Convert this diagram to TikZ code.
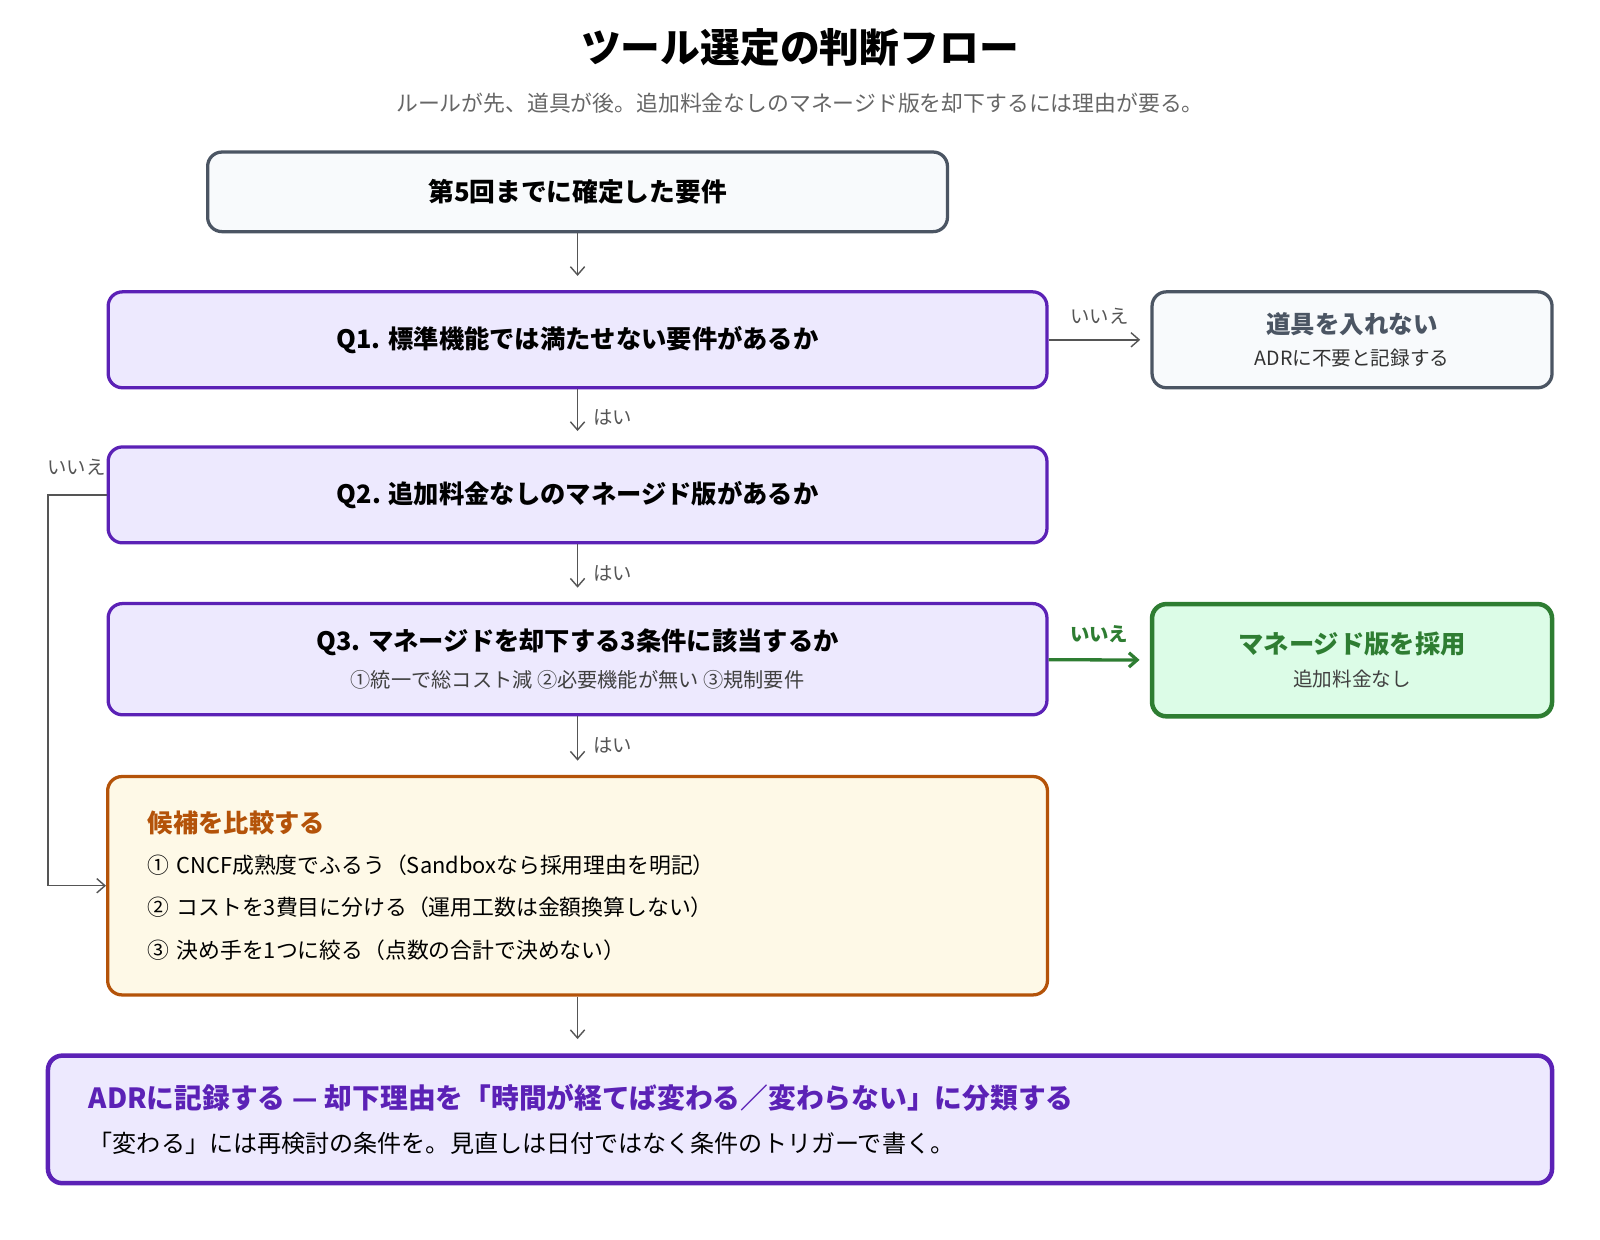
\documentclass[tikz,border=0pt]{standalone}
\usepackage{fontspec}
\setmainfont{Noto Sans CJK JP}
\usetikzlibrary{arrows.meta, positioning}
\definecolor{qline}{HTML}{5B21B6}
\definecolor{qfill}{HTML}{EDE9FE}
\definecolor{gline}{HTML}{4B5563}
\definecolor{gfill}{HTML}{F8FAFC}
\definecolor{okline}{HTML}{2E7D32}
\definecolor{okfill}{HTML}{DCFCE7}
\definecolor{cline}{HTML}{B45309}
\definecolor{cfill}{HTML}{FEF9E7}
\definecolor{arr}{HTML}{555555}

\begin{document}
\begin{tikzpicture}[x=0.5pt, y=-0.5pt,
    box/.style={rounded corners=7pt, line width=1.6pt, minimum height=#1, inner sep=0pt},
    question/.style={box=47pt, draw=qline, fill=qfill, minimum width=460pt, font=\bfseries\fontsize{12.4}{14}\selectfont},
    plain/.style={box=39pt, draw=gline, fill=gfill},
    flow/.style={->, >={Straight Barb[length=4pt,width=7pt]}, draw=arr, line width=0.7pt},
    lbl/.style={text=arr, font=\fontsize{9.5}{10}\selectfont},
    sub/.style={font=\fontsize{10.7}{12}\selectfont, text=black!75}]
    %title
    \node (title) at (784,47) {\bfseries\fontsize{19.5}{22}\selectfont ツール選定の判断フロー};
    \node[sub, text=black!60] (subtitle) at (784,101) {ルールが先、道具が後。追加料金なしのマネージド版を却下するには理由が要る。};
    %define the boxes
    \node[plain, minimum width=362.5pt, font=\bfseries\fontsize{12.6}{14}\selectfont] (req) at (566,188) {第5回までに確定した要件};
    \node[question] (q1) at (566,333) {Q1. 標準機能では満たせない要件があるか};
    \node[plain, box=47pt, draw=gline, fill=gfill, minimum width=196pt, align=center, text=gline] (none) at (1325,333)
        {{\bfseries\fontsize{12}{14}\selectfont 道具を入れない}\\[4pt]{\fontsize{9.6}{11}\selectfont\color{black!80}ADRに不要と記録する}};
    \node[question] (q2) at (566,485) {Q2. 追加料金なしのマネージド版があるか};
    \node[question, minimum height=54.5pt, align=center] (q3) at (566,646)
        {Q3. マネージドを却下する3条件に該当するか\\[4pt]{\mdseries\fontsize{9.9}{11}\selectfont\color{black!75}①統一で総コスト減 ②必要機能が無い ③規制要件}};
    \node[box=55pt, draw=okline, fill=okfill, line width=2.2pt, minimum width=196pt, align=center, text=okline] (managed) at (1325,647)
        {{\bfseries\fontsize{12.4}{14}\selectfont マネージド版を採用}\\[4pt]{\fontsize{9.6}{11}\selectfont\color{black!75}追加料金なし}};
    \node[box=107pt, draw=cline, fill=cfill, minimum width=460.5pt, text width=421pt, align=left] (compare) at (566,868)
        {{\bfseries\fontsize{12.4}{14}\selectfont\color{cline}候補を比較する}\\[8pt]
         {\fontsize{10.7}{12}\selectfont ① CNCF成熟度でふるう（Sandboxなら採用理由を明記）}\\[9pt]
         {\fontsize{10.7}{12}\selectfont ② コストを3費目に分ける（運用工数は金額換算しない）}\\[9pt]
         {\fontsize{10.7}{12}\selectfont ③ 決め手を1つに絞る（点数の合計で決めない）}};
    \node[box=62.5pt, draw=qline, fill=qfill, line width=2.2pt, minimum width=737pt, text width=697pt, align=left] (adr) at (784,1097)
        {{\bfseries\fontsize{13.6}{15}\selectfont\color{qline}ADRに記録する — 却下理由を「時間が経てば変わる／変わらない」に分類する}\\[10pt]
         {\fontsize{11.8}{13}\selectfont 「変わる」には再検討の条件を。見直しは日付ではなく条件のトリガーで書く。}};
    \coordinate (bendtop) at (47,485);
    \coordinate (bendbot) at (47,868);

    %define the links
    \draw[flow, shorten >=7pt] (req) -- (q1);
    \draw[flow, shorten >=7pt] (q1) -- node[lbl, right=4pt] {はい} (q2);
    \draw[flow, shorten >=7pt] (q2) -- node[lbl, right=4pt] {はい} (q3);
    \draw[flow, shorten >=7pt] (q3) -- node[lbl, right=4pt] {はい} (compare);
    \draw[flow, shorten >=7pt] (compare.south) -- (compare.south |- adr.north);
    \draw[flow, shorten >=5pt] (q1) -- node[lbl, above=4pt] {いいえ} (none);
    \draw[flow, draw=okline, line width=1.6pt, shorten >=5pt] (q3) -- node[lbl, above=4pt, text=okline, font=\bfseries\fontsize{9.5}{10}\selectfont] {いいえ} (managed);
    \draw[flow] (q2.west) -- (bendtop) -- (bendbot) -- (compare.west);
    \node[lbl] (q2no) at (75,458) {いいえ};
    \pgfresetboundingbox
    \path[use as bounding box] (0,0) rectangle (1568,1215);
\end{tikzpicture}
\end{document}
